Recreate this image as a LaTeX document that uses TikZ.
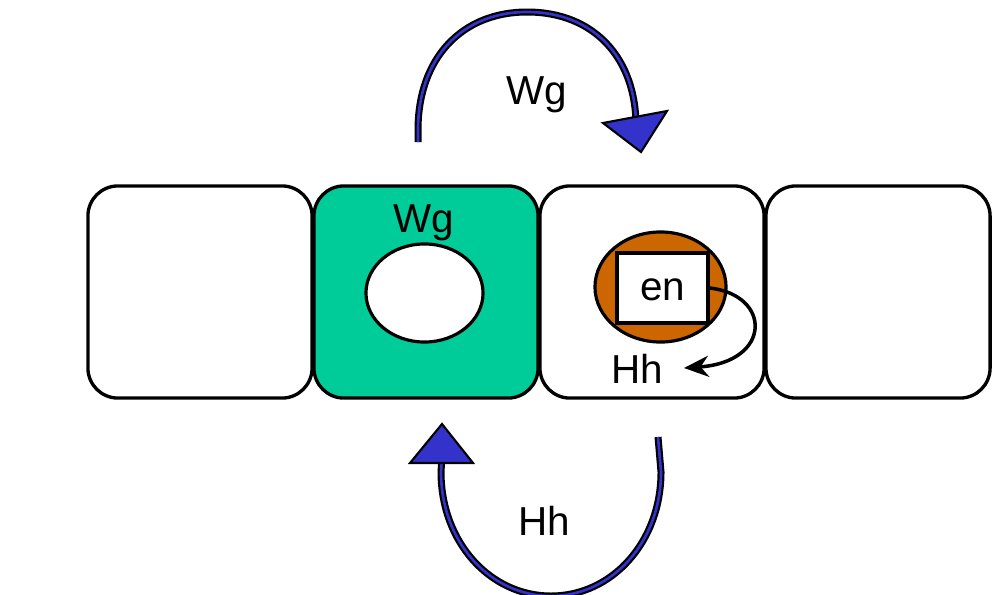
\documentclass[tikz,border=0pt]{standalone}
\usepackage{fontspec}
\setmainfont{Liberation Sans}
\usetikzlibrary{arrows.meta,shapes.geometric}
\definecolor{cellgreen}{RGB}{0,204,153}
\definecolor{nucorange}{RGB}{204,102,0}
\definecolor{signalblue}{RGB}{51,51,204}
\begin{document}
\begin{tikzpicture}[x=0.01cm,y=-0.01cm,
  every node/.style={font=\fontsize{11.5}{13}\selectfont, inner sep=0pt},
  cell/.style={draw=black, line width=0.95pt, rounded corners=0.3cm,
    minimum width=2.24cm, minimum height=2.12cm},
  nucleus/.style={ellipse, draw=black, line width=0.9pt},
  genebox/.style={draw=black, line width=0.9pt, fill=white,
    minimum width=0.91cm, minimum height=0.70cm},
  signal/.style={draw=black, line width=0.62pt, double=signalblue,
    double distance=0.75pt},
  signaltip/.style={fill=signalblue, draw=black, line width=0.6pt, line join=miter},
  label/.style={anchor=base}]
  \useasboundingbox (0,0) rectangle (1001,594);

  % row of four cells
  \node[cell, fill=white] (c1) at (200,292) {};
  \node[cell, fill=white] (c3) at (652,292) {};
  \node[cell, fill=white] (c4) at (878,292) {};
  \node[cell, fill=cellgreen] (c2) at (426,292) {};

  % Wg-expressing cell
  \node[nucleus, fill=white, minimum width=1.17cm, minimum height=0.98cm] (n2) at (424.5,293) {};
  \node[label] (wgin) at (424,232) {Wg};

  % engrailed-expressing cell
  \node[nucleus, fill=nucorange, minimum width=1.31cm, minimum height=1.10cm] (n3) at (660.5,287) {};
  \node[genebox] (en) at (662.5,288) {};
  \node[label] (entext) at (662.5,300) {en};
  \node[label] (hhin) at (637,383) {Hh};
  \coordinate (hhtip) at (684,368);
  \draw[line width=1pt, -{Stealth[length=7pt,width=6pt]}]
    (en.east) .. controls (772,295) and (772,362) .. (hhtip);

  % Wg signal to the neighbour
  \coordinate (wgstart) at (418,142);
  \coordinate (wgend) at (636,126);
  \draw[signal] (wgstart) -- (418,130) .. controls (418,58) and (462,12) .. (527,12)
    .. controls (594,12) and (636,58) .. (wgend);
  \draw[signaltip] (603,123) -- (667,111) -- (641,152) -- cycle;
  \node[label] (wgout) at (537,104) {Wg};

  % Hh signal back
  \coordinate (hhstart) at (658,437);
  \coordinate (hhend) at (442,455);
  \draw[signal] (hhstart) -- (661,472) .. controls (661,542) and (612,596) .. (551,596)
    .. controls (490,596) and (441,542) .. (441,472) -- (hhend);
  \draw[signaltip] (442,424) -- (473,463) -- (410,463) -- cycle;
  \node[label] (hhout) at (544,535) {Hh};
\end{tikzpicture}
\end{document}
